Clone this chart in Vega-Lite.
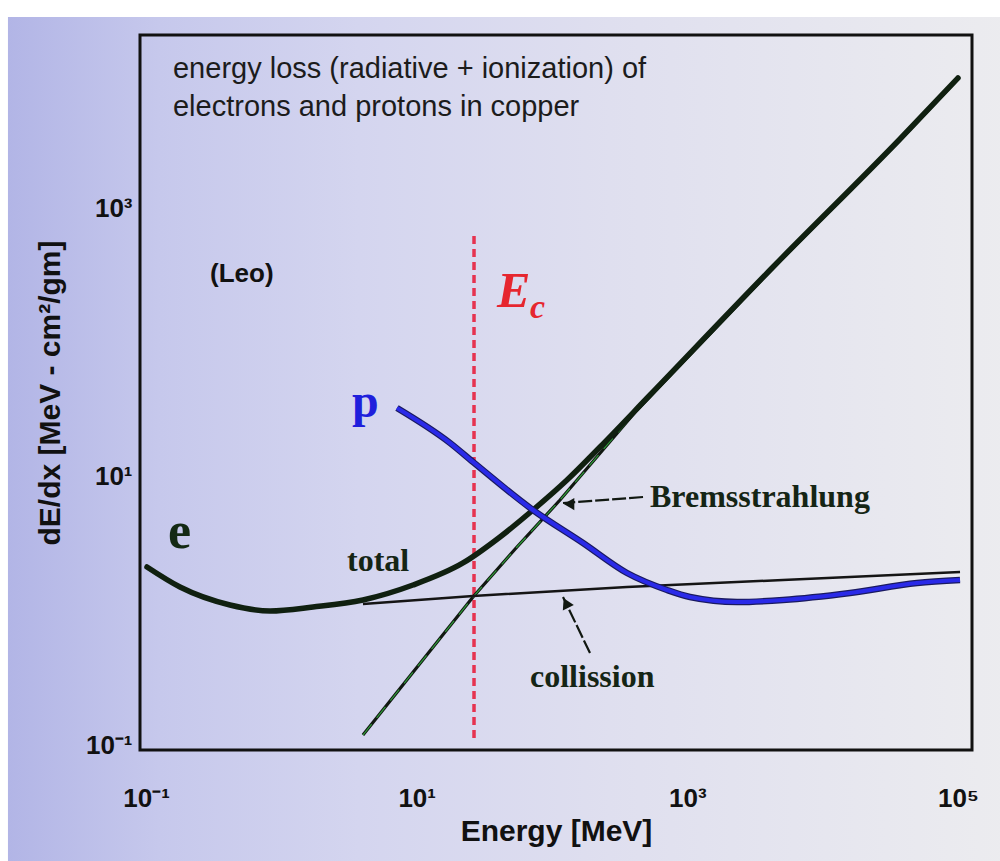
{
  "$schema": "https://vega.github.io/schema/vega-lite/v6.json",
  "width": 832,
  "height": 715,
  "autosize": {"type": "none"},
  "padding": {"left": 140, "top": 35, "right": 28, "bottom": 111},
  "background": "#ffffff",
  "config": {
    "view": {"stroke": null},
    "axis": {
      "domain": false, "ticks": false, "tickSize": 0, "grid": false,
      "labelFont": "Liberation Sans", "labelFontWeight": "bold", "labelFontSize": 26, "labelColor": "#111111",
      "titleFont": "Liberation Sans", "titleFontWeight": "bold", "titleColor": "#111111",
      "labelFlush": false, "labelOverlap": false, "labelBound": false
    }
  },
  "datasets": {
    "backdrop": [{"E": 0.00955, "E2": 242300, "dEdx": 0.01172, "dEdx2": 26470}],
    "frame": [{"E": 0.0903, "E2": 126900, "dEdx": 0.0918, "dEdx2": 19440}],
    "curves": [
      {"s": "brems", "E": 4.01, "dEdx": 0.1187},
      {"s": "brems", "E": 26.08, "dEdx": 1.266},
      {"s": "brems", "E": 55.1, "dEdx": 2.985},
      {"s": "brems", "E": 114.6, "dEdx": 6.68},
      {"s": "brems", "E": 424.9, "dEdx": 31.28},
      {"s": "brems", "E": 4297, "dEdx": 357.4},
      {"s": "brems", "E": 37280, "dEdx": 3210},
      {"s": "brems", "E": 100000, "dEdx": 9140},
      {"s": "coll", "E": 4.01, "dEdx": 1.123},
      {"s": "coll", "E": 26.08, "dEdx": 1.288},
      {"s": "coll", "E": 358.4, "dEdx": 1.503},
      {"s": "coll", "E": 5093, "dEdx": 1.695},
      {"s": "coll", "E": 103500, "dEdx": 1.943},
      {"s": "total", "E": 0.1017, "dEdx": 2.118},
      {"s": "total", "E": 0.1783, "dEdx": 1.503},
      {"s": "total", "E": 0.4175, "dEdx": 1.104},
      {"s": "total", "E": 0.8249, "dEdx": 0.9957},
      {"s": "total", "E": 1.714, "dEdx": 1.066},
      {"s": "total", "E": 4.01, "dEdx": 1.203},
      {"s": "total", "E": 9.395, "dEdx": 1.555},
      {"s": "total", "E": 22.0, "dEdx": 2.269},
      {"s": "total", "E": 41.28, "dEdx": 3.543},
      {"s": "total", "E": 72.38, "dEdx": 5.629},
      {"s": "total", "E": 129.1, "dEdx": 9.417},
      {"s": "total", "E": 226.3, "dEdx": 16.59},
      {"s": "total", "E": 530, "dEdx": 40.46},
      {"s": "total", "E": 4297, "dEdx": 363.5},
      {"s": "total", "E": 37280, "dEdx": 3266},
      {"s": "total", "E": 100000, "dEdx": 9297},
      {"s": "proton", "E": 7.155, "dEdx": 32.37},
      {"s": "proton", "E": 17.64, "dEdx": 17.77},
      {"s": "proton", "E": 26.08, "dEdx": 12.83},
      {"s": "proton", "E": 72.38, "dEdx": 5.629},
      {"s": "proton", "E": 169.5, "dEdx": 3.197},
      {"s": "proton", "E": 358.4, "dEdx": 1.911},
      {"s": "proton", "E": 707.8, "dEdx": 1.428},
      {"s": "proton", "E": 1046, "dEdx": 1.266},
      {"s": "proton", "E": 2329, "dEdx": 1.162},
      {"s": "proton", "E": 5093, "dEdx": 1.203},
      {"s": "proton", "E": 15930, "dEdx": 1.356},
      {"s": "proton", "E": 49800, "dEdx": 1.609},
      {"s": "proton", "E": 103500, "dEdx": 1.695}
    ],
    "ec": [{"E": 26.53, "dEdx": 0.1127, "dEdx2": 651.6}],
    "arrows": [
      {"E": 470.6, "dEdx": 7.035, "E2": 120.6, "dEdx2": 6.347},
      {"E": 190.9, "dEdx": 0.4845, "E2": 120.6, "dEdx2": 1.266}
    ],
    "heads": [
      {"k": "brems", "E": 133.6, "dEdx": 6.24},
      {"k": "coll", "E": 126.9, "dEdx": 1.142}
    ],
    "labels": [
      {"k": "title", "t": "energy loss (radiative + ionization) of", "E": 0.1583, "dEdx": 9297},
      {"k": "title", "t": "electrons and protons in copper", "E": 0.1583, "dEdx": 4845},
      {"k": "leo", "t": "(Leo)", "E": 0.2972, "dEdx": 281},
      {"k": "Ebig", "t": "E", "E": 39.25, "dEdx": 183.1},
      {"k": "csub", "t": "c", "E": 68.8, "dEdx": 151.6},
      {"k": "p", "t": "p", "E": 3.328, "dEdx": 27.75},
      {"k": "e", "t": "e", "E": 0.1454, "dEdx": 2.934},
      {"k": "note", "t": "total", "E": 3.057, "dEdx": 1.978},
      {"k": "note", "t": "Bremsstrahlung", "E": 530, "dEdx": 5.927},
      {"k": "note", "t": "collission", "E": 68.8, "dEdx": 0.2704}
    ]
  },
  "encoding": {
    "x": {
      "field": "E", "type": "quantitative",
      "scale": {"type": "log", "domain": [0.0903, 126900], "nice": false},
      "axis": {
        "zindex": 2,
        "values": [0.1, 10, 1000, 100000],
        "labelExpr": "round(log(datum.value)/LN10) == -1 ? '10⁻¹' : round(log(datum.value)/LN10) == 1 ? '10¹' : round(log(datum.value)/LN10) == 3 ? '10³' : '10⁵'",
        "labelPadding": 35,
        "title": "Energy [MeV]",
        "titleFontSize": 30,
        "titlePadding": 5
      }
    },
    "y": {
      "field": "dEdx", "type": "quantitative",
      "scale": {"type": "log", "domain": [0.0918, 19440], "nice": false},
      "axis": {
        "zindex": 2,
        "values": [0.1, 10, 1000],
        "labelExpr": "round(log(datum.value)/LN10) == -1 ? '10⁻¹' : round(log(datum.value)/LN10) == 1 ? '10¹' : '10³'",
        "labelPadding": 8,
        "title": "dE/dx [MeV - cm²/gm]",
        "titleFontSize": 30,
        "titlePadding": 20
      }
    }
  },
  "layer": [
    {
      "data": {"name": "backdrop"},
      "mark": {
        "type": "rect",
        "fill": {
          "gradient": "linear", "x1": 0, "y1": 0, "x2": 1, "y2": 0,
          "stops": [
            {"offset": 0, "color": "#b2b5e6"},
            {"offset": 0.15, "color": "#c6c8ec"},
            {"offset": 0.35, "color": "#d4d5ef"},
            {"offset": 0.6, "color": "#dfdfef"},
            {"offset": 1, "color": "#ececef"}
          ]
        }
      },
      "encoding": {"x2": {"field": "E2"}, "y2": {"field": "dEdx2"}}
    },
    {
      "data": {"name": "ec"},
      "mark": {"type": "rule", "color": "#e63350", "strokeWidth": 3.5, "strokeDash": [8, 5]},
      "encoding": {"y2": {"field": "dEdx2"}}
    },
    {
      "data": {"name": "curves"},
      "transform": [{"filter": "datum.s == 'brems'"}],
      "mark": {"type": "line", "color": "#111811", "strokeWidth": 3.2},
      "encoding": {}
    },
    {
      "data": {"name": "curves"},
      "transform": [{"filter": "datum.s == 'brems'"}],
      "mark": {"type": "line", "color": "#2f9a3a", "strokeWidth": 1.2, "strokeDash": [14, 8]},
      "encoding": {}
    },
    {
      "data": {"name": "curves"},
      "transform": [{"filter": "datum.s == 'coll'"}],
      "mark": {"type": "line", "color": "#151515", "strokeWidth": 2.5},
      "encoding": {}
    },
    {
      "data": {"name": "curves"},
      "transform": [{"filter": "datum.s == 'total'"}],
      "mark": {"type": "line", "color": "#102010", "strokeWidth": 5.5, "strokeCap": "round", "interpolate": "monotone"},
      "encoding": {}
    },
    {
      "data": {"name": "curves"},
      "transform": [{"filter": "datum.s == 'proton'"}],
      "mark": {"type": "line", "color": "#1a1a60", "strokeWidth": 6.5, "interpolate": "monotone"},
      "encoding": {}
    },
    {
      "data": {"name": "curves"},
      "transform": [{"filter": "datum.s == 'proton'"}],
      "mark": {"type": "line", "color": "#2a2ae8", "strokeWidth": 4.2, "interpolate": "monotone"},
      "encoding": {}
    },
    {
      "data": {"name": "arrows"},
      "mark": {"type": "rule", "color": "#111811", "strokeWidth": 2.2, "strokeDash": [14, 3]},
      "encoding": {"x2": {"field": "E2"}, "y2": {"field": "dEdx2"}}
    },
    {
      "data": {"name": "heads"},
      "transform": [{"filter": "datum.k == 'brems'"}],
      "mark": {"type": "point", "shape": "triangle-left", "filled": true, "color": "#111811", "size": 150, "opacity": 1},
      "encoding": {}
    },
    {
      "data": {"name": "heads"},
      "transform": [{"filter": "datum.k == 'coll'"}],
      "mark": {"type": "point", "shape": "triangle-up", "angle": 334, "filled": true, "color": "#111811", "size": 150, "opacity": 1},
      "encoding": {}
    },
    {
      "data": {"name": "labels"},
      "transform": [{"filter": "datum.k == 'title'"}],
      "mark": {"type": "text", "align": "left", "baseline": "alphabetic", "font": "Liberation Sans", "fontSize": 29, "color": "#1c1c1c"},
      "encoding": {"text": {"field": "t"}}
    },
    {
      "data": {"name": "labels"},
      "transform": [{"filter": "datum.k == 'leo'"}],
      "mark": {"type": "text", "align": "left", "baseline": "alphabetic", "font": "Liberation Sans", "fontWeight": "bold", "fontSize": 26, "color": "#111111"},
      "encoding": {"text": {"field": "t"}}
    },
    {
      "data": {"name": "labels"},
      "transform": [{"filter": "datum.k == 'Ebig'"}],
      "mark": {"type": "text", "align": "left", "baseline": "alphabetic", "font": "Liberation Serif", "fontStyle": "italic", "fontWeight": "bold", "fontSize": 50, "color": "#e6262f"},
      "encoding": {"text": {"field": "t"}}
    },
    {
      "data": {"name": "labels"},
      "transform": [{"filter": "datum.k == 'csub'"}],
      "mark": {"type": "text", "align": "left", "baseline": "alphabetic", "font": "Liberation Serif", "fontStyle": "italic", "fontWeight": "bold", "fontSize": 34, "color": "#e6262f"},
      "encoding": {"text": {"field": "t"}}
    },
    {
      "data": {"name": "labels"},
      "transform": [{"filter": "datum.k == 'p'"}],
      "mark": {"type": "text", "align": "left", "baseline": "alphabetic", "font": "Liberation Serif", "fontWeight": "bold", "fontSize": 48, "color": "#1f1fdc"},
      "encoding": {"text": {"field": "t"}}
    },
    {
      "data": {"name": "labels"},
      "transform": [{"filter": "datum.k == 'e'"}],
      "mark": {"type": "text", "align": "left", "baseline": "alphabetic", "font": "Liberation Serif", "fontWeight": "bold", "fontSize": 52, "color": "#142a14"},
      "encoding": {"text": {"field": "t"}}
    },
    {
      "data": {"name": "labels"},
      "transform": [{"filter": "datum.k == 'note'"}],
      "mark": {"type": "text", "align": "left", "baseline": "alphabetic", "font": "Liberation Serif", "fontWeight": "bold", "fontSize": 32, "color": "#152515"},
      "encoding": {"text": {"field": "t"}}
    },
    {
      "data": {"name": "frame"},
      "mark": {"type": "rect", "filled": false, "stroke": "#111111", "strokeWidth": 3},
      "encoding": {"x2": {"field": "E2"}, "y2": {"field": "dEdx2"}}
    }
  ]
}
